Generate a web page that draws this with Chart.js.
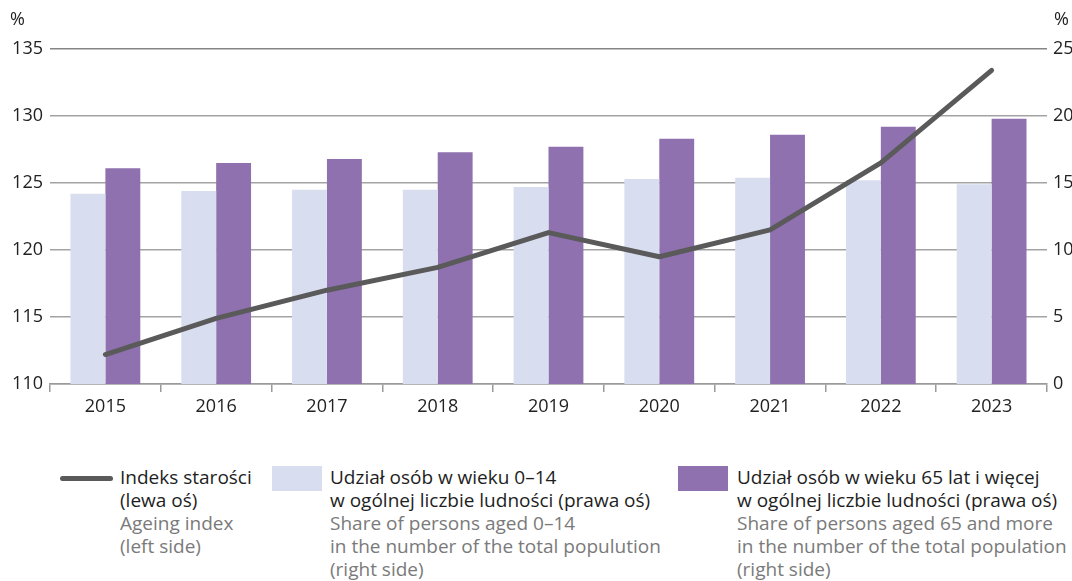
<!DOCTYPE html>
<html>
<head>
<meta charset="utf-8">
<script src="https://cdn.jsdelivr.net/npm/chart.js@4"></script>
<style>
    html, body { margin: 0; padding: 0; background: #fff; }
    body { width: 1072px; height: 581px; position: relative; overflow: hidden; font-family: "Open Sans", sans-serif; }
    #wrap { position: absolute; left: 0; top: 0; width: 1072px; height: 425px; }
    .unit { position: absolute; top: 6px; font-size: 18px; color: #222; }
    .legend { position: absolute; top: 466px; font-size: 19px; line-height: 23px; color: #1e1e1e; white-space: nowrap; }
    .legend .en { color: #7a7a7a; }
    .swatch { position: absolute; }
</style>
</head>
<body>
<div id="wrap"><canvas id="chart"></canvas></div>
<div class="unit" style="left:10px">%</div>
<div class="unit" style="left:1054px">%</div>

<div class="swatch" style="left:60px;top:476px;width:53px;height:5px;border-radius:3px;background:#5a5a5a"></div>
<div class="legend" style="left:120px">Indeks starości<br>(lewa oś)<br><span class="en">Ageing index<br>(left side)</span></div>

<div class="swatch" style="left:272px;top:466px;width:50px;height:25px;background:#d9ddf0"></div>
<div class="legend" style="left:330px">Udział osób w wieku 0–14<br>w ogólnej liczbie ludności (prawa oś)<br><span class="en">Share of persons aged 0–14<br>in the number of the total populution<br>(right side)</span></div>

<div class="swatch" style="left:678px;top:466px;width:50px;height:25px;background:#8e71ae"></div>
<div class="legend" style="left:737px">Udział osób w wieku 65 lat i więcej<br>w ogólnej liczbie ludności (prawa oś)<br><span class="en">Share of persons aged 65 and more<br>in the number of the total population<br>(right side)</span></div>

<script>
let years = ['2015', '2016', '2017', '2018', '2019', '2020', '2021', '2022', '2023'];
let ageing_index = [112.2, 114.9, 117.0, 118.7, 121.3, 119.5, 121.5, 126.5, 133.4];
let share_0_14 = [14.2, 14.4, 14.5, 14.5, 14.7, 15.3, 15.4, 15.2, 14.9];
let share_65 = [16.1, 16.5, 16.8, 17.3, 17.7, 18.3, 18.6, 19.2, 19.8];
let left_range = [110, 135];
let right_range = [0, 25];

const axisFont = { family: '"Open Sans", sans-serif', size: 18 };

let ctx = document.getElementById('chart').getContext('2d');

let myChart = new Chart(ctx, {
    data: {
        labels: years,
        datasets: [{
            type: 'line',
            label: 'Indeks starości',
            data: ageing_index,
            yAxisID: 'y',
            borderColor: '#5a5a5a',
            borderWidth: 5,
            borderCapStyle: 'round',
            borderJoinStyle: 'round',
            pointRadius: 0,
            tension: 0,
            order: 0,
        }, {
            type: 'bar',
            label: 'Udział osób w wieku 0–14',
            data: share_0_14,
            yAxisID: 'y1',
            backgroundColor: '#d9ddf0',
            categoryPercentage: 0.63,
            barPercentage: 1,
            order: 1,
        }, {
            type: 'bar',
            label: 'Udział osób w wieku 65 lat i więcej',
            data: share_65,
            yAxisID: 'y1',
            backgroundColor: '#8e71ae',
            categoryPercentage: 0.63,
            barPercentage: 1,
            order: 1,
        }]
    },
    options: {
        responsive: true,
        maintainAspectRatio: false,
        animation: false,
        layout: { padding: { top: 49, left: 0, right: 0, bottom: 0 } },
        plugins: {
            legend: { display: false },
            tooltip: { enabled: false },
        },
        scales: {
            x: {
                grid: {
                    offset: true,
                    drawOnChartArea: false,
                    drawTicks: true,
                    tickLength: 8,
                    color: '#9a9a9a',
                    lineWidth: 1.5,
                },
                border: { display: true, color: '#9a9a9a', width: 1.5 },
                ticks: { color: '#222', font: axisFont, padding: 4 },
                afterFit: (scale) => { scale.height = 41; },
            },
            y: {
                position: 'left',
                min: left_range[0],
                max: left_range[1],
                ticks: { stepSize: 5, color: '#222', font: axisFont, padding: 7 },
                grid: { color: (c) => c.index === 5 ? '#858585' : '#a3a3a3', lineWidth: 1.5, drawTicks: false },
                border: { display: false },
                afterFit: (scale) => { scale.width = 50; },
            },
            y1: {
                position: 'right',
                min: right_range[0],
                max: right_range[1],
                ticks: { stepSize: 5, color: '#222', font: axisFont, padding: 6 },
                grid: { display: false, drawTicks: false },
                border: { display: false },
                afterFit: (scale) => { scale.width = 25; },
            },
        },
    },
});
</script>
</body>
</html>
